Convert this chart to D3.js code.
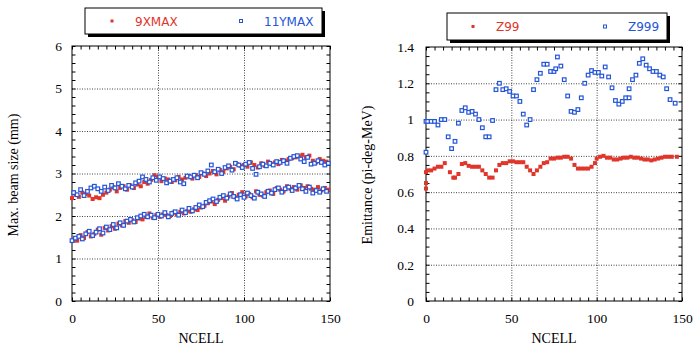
<!DOCTYPE html>
<html>
<head>
<meta charset="utf-8">
<script src="https://cdn.jsdelivr.net/npm/d3@7"></script>
<style>
  body { margin: 0; background: #fff; }
  .chart svg { display: block; }
  .tick text { font-family: "Liberation Serif", serif; font-size: 13.5px; fill: #000; }
  .axis path, .axis line { stroke: #000; }
  .grid line { stroke: #444; stroke-dasharray: 1,1.5; }
  .grid path { display: none; }
</style>
</head>
<body>
<div class="chart"></div>
<script>
// left panel: max beam size, two bands (even / odd cells)
var cellsEven = d3.range(0, 150, 2);
var cellsOdd = d3.range(1, 150, 2);

var xmaxHi = [
  2.42, 2.50, 2.45, 2.55, 2.52, 2.48, 2.40, 2.44, 2.42, 2.50,
  2.55, 2.62, 2.68, 2.58, 2.66, 2.70, 2.62, 2.72, 2.66, 2.74,
  2.70, 2.80, 2.76, 2.85, 2.96, 2.92, 2.82, 2.88, 2.86, 2.80,
  2.84, 2.92, 2.86, 2.90, 2.94, 2.88, 2.96, 2.92, 3.00, 2.94,
  3.00, 3.06, 2.98, 3.08, 3.04, 3.12, 3.16, 3.10, 3.22, 3.18,
  3.20, 3.16, 3.26, 3.20, 3.14, 3.24, 3.18, 3.28, 3.22, 3.26,
  3.22, 3.32, 3.30, 3.34, 3.36, 3.38, 3.40, 3.44, 3.38, 3.42,
  3.30, 3.26, 3.34, 3.30, 3.28
];
var xmaxLo = [
  1.45, 1.42, 1.55, 1.48, 1.62, 1.52, 1.58, 1.68, 1.56, 1.72,
  1.66, 1.76, 1.70, 1.82, 1.78, 1.88, 1.84, 1.90, 1.86, 1.94,
  1.92, 1.98, 2.06, 1.96, 2.02, 1.98, 2.04, 2.02, 2.00, 2.08,
  2.04, 2.10, 2.06, 2.12, 2.10, 2.16, 2.14, 2.20, 2.24, 2.30,
  2.34, 2.28, 2.38, 2.42, 2.36, 2.46, 2.54, 2.44, 2.50, 2.56,
  2.46, 2.52, 2.44, 2.58, 2.50, 2.48, 2.56, 2.60, 2.52, 2.66,
  2.62, 2.58, 2.70, 2.64, 2.68, 2.62, 2.72, 2.66, 2.70, 2.64,
  2.62, 2.68, 2.60, 2.66, 2.62
];
var ymaxHi = [
  2.55, 2.50, 2.62, 2.48, 2.58, 2.66, 2.70, 2.64, 2.58, 2.68,
  2.60, 2.72, 2.66, 2.76, 2.70, 2.64, 2.72, 2.68, 2.78, 2.82,
  2.92, 2.86, 2.80, 2.90, 2.84, 2.92, 2.88, 2.78, 2.82, 2.86,
  2.90, 2.80, 2.76, 2.94, 2.92, 2.96, 2.90, 3.02, 2.98, 3.06,
  3.20, 3.04, 3.10, 3.00, 3.14, 3.18, 3.08, 3.24, 3.20, 3.14,
  3.22, 3.26, 3.12, 2.98, 3.16, 3.22, 3.18, 3.24, 3.20, 3.28,
  3.26, 3.30, 3.24, 3.36, 3.40, 3.42, 3.34, 3.28, 3.38, 3.22,
  3.24, 3.30, 3.26, 3.20, 3.24
];
var ymaxLo = [
  1.42, 1.48, 1.52, 1.46, 1.58, 1.64, 1.54, 1.62, 1.70, 1.60,
  1.74, 1.68, 1.80, 1.72, 1.84, 1.78, 1.88, 1.92, 1.86, 1.96,
  2.00, 2.04, 1.98, 2.02, 1.96, 2.04, 2.00, 2.08, 1.98, 2.06,
  2.10, 2.02, 2.14, 2.08, 2.18, 2.12, 2.20, 2.26, 2.22, 2.32,
  2.36, 2.40, 2.34, 2.44, 2.48, 2.42, 2.52, 2.46, 2.40, 2.50,
  2.44, 2.54, 2.48, 2.42, 2.56, 2.52, 2.46, 2.58, 2.54, 2.62,
  2.66, 2.56, 2.64, 2.68, 2.60, 2.66, 2.72, 2.64, 2.58, 2.68,
  2.54, 2.60, 2.56, 2.64, 2.58
];

// right panel: emittance, [ncell, value]
var z99 = [
  [0,0.62],[0,0.65],[0,0.71],[1,0.72],[3,0.72],[5,0.73],[7,0.74],[9,0.74],[11,0.76],[14,0.71],
  [16,0.68],[17,0.68],[19,0.70],[21,0.755],[23,0.76],[25,0.745],[27,0.74],[29,0.74],[31,0.74],[33,0.72],
  [35,0.70],[37,0.68],[39,0.68],[41,0.72],[43,0.75],[45,0.76],[47,0.76],[49,0.77],[51,0.77],[53,0.765],
  [55,0.765],[57,0.765],[59,0.74],[61,0.72],[63,0.70],[65,0.72],[67,0.74],[69,0.76],[71,0.765],[73,0.785],
  [75,0.785],[77,0.79],[79,0.79],[81,0.795],[83,0.795],[85,0.785],[87,0.75],[89,0.73],[91,0.73],[93,0.73],
  [95,0.73],[97,0.74],[99,0.76],[100,0.785],[102,0.795],[104,0.80],[106,0.79],[108,0.79],[110,0.78],[112,0.78],
  [114,0.785],[116,0.79],[118,0.79],[120,0.795],[122,0.79],[124,0.79],[126,0.785],[128,0.78],[130,0.78],[132,0.775],
  [134,0.78],[136,0.785],[138,0.79],[140,0.795],[142,0.795],[144,0.795],[147,0.795]
];
var z999 = [
  [0,0.82],[0,0.99],[1,0.99],[3,0.99],[5,0.99],[7,0.97],[9,1.00],[11,1.00],[13,0.905],[15,0.84],
  [17,0.88],[19,0.98],[21,1.05],[23,1.065],[25,1.04],[27,1.045],[29,1.03],[31,1.00],[33,0.955],[35,0.905],
  [37,0.905],[39,0.995],[41,1.165],[43,1.20],[45,1.165],[47,1.17],[49,1.155],[51,1.13],[53,1.13],[55,1.10],
  [57,1.03],[59,0.97],[61,1.00],[63,1.165],[65,1.22],[67,1.255],[69,1.305],[71,1.305],[73,1.265],[75,1.265],
  [76,1.28],[77,1.345],[79,1.295],[81,1.22],[83,1.13],[85,1.045],[87,1.04],[89,1.055],[91,1.12],[93,1.20],
  [95,1.245],[97,1.27],[99,1.26],[101,1.26],[103,1.24],[105,1.29],[107,1.235],[109,1.175],[111,1.105],[113,1.085],
  [115,1.10],[117,1.12],[119,1.12],[119,1.17],[121,1.22],[123,1.245],[125,1.31],[127,1.335],[129,1.30],[131,1.28],
  [133,1.265],[135,1.265],[137,1.245],[139,1.235],[141,1.17],[143,1.11],[146,1.09]
];

var xTicks = [0, 50, 100, 150];
var leftYTicks = [0, 1, 2, 3, 4, 5, 6];
var rightYTicks = [0, 0.2, 0.4, 0.6, 0.8, 1, 1.2, 1.4];

var RED = '#e0352b';
var BLUE = '#2455d8';

var svg = d3.select('.chart')
  .append('svg')
  .attr('width', 693)
  .attr('height', 349);

function panel(o) {
  var W = o.width;
  var x = d3.scaleLinear().domain([0, 150]).range([o.left, o.left + W]);
  var y = d3.scaleLinear().domain(o.yDomain).range([301, o.top]);
  var g = svg.append('g');

  // dotted grid at major ticks
  g.append('g').attr('class', 'grid')
    .attr('transform', 'translate(0,301)')
    .call(d3.axisBottom(x).tickValues([50, 100]).tickSize(-(301 - o.top)).tickFormat(''));
  g.append('g').attr('class', 'grid')
    .attr('transform', `translate(${o.left},0)`)
    .call(d3.axisLeft(y).tickValues(o.yTicks.slice(1, -1)).tickSize(-W).tickFormat(''));

  // inward minor ticks on all sides
  var xMinor = d3.range(0, 151, 5);
  var yMinor = d3.range(o.yDomain[0], o.yDomain[1] + 1e-9, o.yMinor);
  [[d3.axisBottom(x), `translate(0,301)`],
   [d3.axisTop(x), `translate(0,${o.top})`]].forEach(function (a) {
    g.append('g').attr('class', 'axis').attr('transform', a[1])
      .call(a[0].tickValues(xMinor).tickSize(-3.5).tickFormat(''))
      .select('.domain').remove();
  });
  [[d3.axisLeft(y), `translate(${o.left},0)`],
   [d3.axisRight(y), `translate(${o.left + W},0)`]].forEach(function (a) {
    g.append('g').attr('class', 'axis').attr('transform', a[1])
      .call(a[0].tickValues(yMinor).tickSize(-3.5).tickFormat(''))
      .select('.domain').remove();
  });

  // labelled axes
  var xa = g.append('g').attr('class', 'axis')
    .attr('transform', 'translate(0,301)')
    .call(d3.axisBottom(x).tickValues(xTicks).tickSize(0).tickPadding(12));
  xa.select('.domain').remove();
  var ya = g.append('g').attr('class', 'axis')
    .attr('transform', `translate(${o.left},0)`)
    .call(d3.axisLeft(y).tickValues(o.yTicks).tickSize(0).tickPadding(o.yPad)
      .tickFormat(d => d3.format('')(+d.toFixed(1))));
  ya.select('.domain').remove();

  g.append('rect')
    .attr('x', o.left).attr('y', o.top)
    .attr('width', W).attr('height', 301 - o.top)
    .attr('fill', 'none').attr('stroke', '#000');

  g.append('text')
    .attr('x', o.left + W / 2).attr('y', 343)
    .attr('text-anchor', 'middle')
    .style('font', '14px "Liberation Serif", serif')
    .text('NCELL');
  g.append('text')
    .attr('transform', `translate(${o.titleX},175) rotate(-90)`)
    .attr('text-anchor', 'middle')
    .style('font', '14px "Liberation Serif", serif')
    .text(o.yTitle);

  // points
  o.series.forEach(function (s) {
    var pts = g.append('g').selectAll('rect')
      .data(s.data)
      .enter()
      .append('rect');
    if (s.hollow) {
      pts.attr('x', d => x(d[0]) - 1.8).attr('y', d => y(d[1]) - 1.8)
        .attr('width', 3.6).attr('height', 3.6)
        .attr('fill', '#fff').attr('stroke', s.color).attr('stroke-width', 1.2);
    } else {
      pts.attr('x', d => x(d[0]) - 2).attr('y', d => y(d[1]) - 2)
        .attr('width', 4).attr('height', 4)
        .attr('fill', s.color);
    }
  });

  // legend with drop shadow
  var L = o.legend;
  var lg = svg.append('g');
  lg.append('rect').attr('x', L.x + 3).attr('y', L.y + 3).attr('width', L.w).attr('height', L.h).attr('fill', '#000');
  lg.append('rect').attr('x', L.x).attr('y', L.y).attr('width', L.w).attr('height', L.h)
    .attr('fill', '#fff').attr('stroke', '#000');
  o.series.forEach(function (s, i) {
    var mx = L.items[i];
    var cy = L.y + L.h / 2;
    var m = lg.append('rect').attr('x', mx - 1.5).attr('y', cy - 1.5).attr('width', 3).attr('height', 3);
    if (s.hollow) m.attr('fill', '#fff').attr('stroke', s.color);
    else m.attr('fill', s.color);
    lg.append('text')
      .attr('x', mx + 23).attr('y', cy + 4.5)
      .attr('fill', s.color)
      .style('font', '12px "DejaVu Sans", sans-serif')
      .text(s.name);
  });
}

function pairs(cells, vals) { return vals.map((v, i) => [cells[i], v]); }

panel({
  left: 72, width: 258, top: 46, yDomain: [0, 6], yTicks: leftYTicks, yMinor: 0.2, yPad: 10,
  titleX: 18, yTitle: 'Max. beam size (mm)',
  legend: { x: 85, y: 8, w: 237, h: 26, items: [112, 241] },
  series: [
    { name: '9XMAX', color: RED, data: pairs(cellsEven, xmaxHi).concat(pairs(cellsOdd, xmaxLo)) },
    { name: '11YMAX', color: BLUE, hollow: true, data: pairs(cellsOdd, ymaxHi).concat(pairs(cellsEven, ymaxLo)) }
  ]
});

panel({
  left: 426, width: 256, top: 47, yDomain: [0, 1.4], yTicks: rightYTicks, yMinor: 0.05, yPad: 12,
  titleX: 372, yTitle: 'Emittance (pi-deg-MeV)',
  legend: { x: 447, y: 13, w: 220, h: 27, items: [473, 605] },
  series: [
    { name: 'Z99', color: RED, data: z99 },
    { name: 'Z999', color: BLUE, hollow: true, data: z999 }
  ]
});
</script>
</body>
</html>
